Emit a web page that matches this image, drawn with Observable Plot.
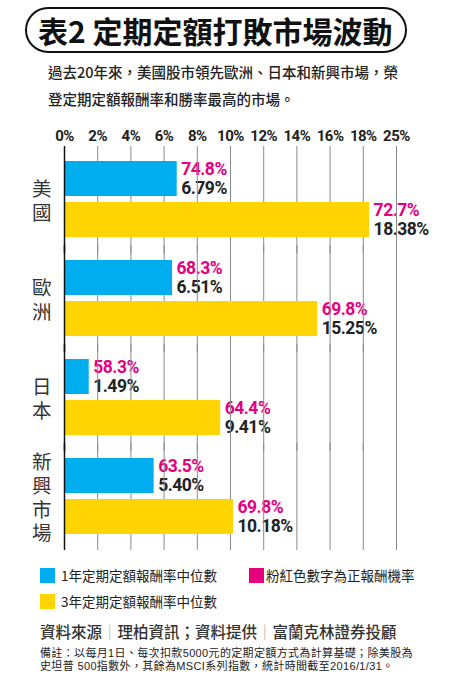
<!DOCTYPE html>
<html>
<head>
<meta charset="utf-8">
<script src="https://cdn.jsdelivr.net/npm/d3@7"></script>
<script src="https://cdn.jsdelivr.net/npm/@observablehq/plot@0.6"></script>
<style>
  html, body { margin: 0; padding: 0; background: #fff; }
  body { width: 458px; height: 687px; position: relative; overflow: hidden;
         font-family: "Noto Sans CJK TC", "Noto Sans", sans-serif; color: #222; }
  .abs { position: absolute; white-space: nowrap; }
  #title { left: 25px; top: 7px; width: 382px; height: 46px; box-sizing: border-box;
           border: 2px solid #111; border-radius: 24px; font-size: 30px; font-weight: 700;
           line-height: 42px; padding-left: 11px; color: #111; }
  #subtitle { left: 48px; top: 58px; font-size: 14.5px; line-height: 27px; font-weight: 500; color: #222; }
  #chart { left: 0; top: 110px; }
  #chart svg text { letter-spacing: -0.5px; }
  .sw { position: absolute; width: 15px; height: 15px; }
  .lg { font-size: 13.5px; line-height: 16px; color: #222; }
  #source { left: 40px; top: 620px; font-size: 15.5px; font-weight: 500; line-height: 22px; color: #333; }
  #source .sep { color: #999; font-weight: 300; }
  #notes { left: 40px; top: 647px; font-family: "Liberation Sans", "Noto Sans CJK TC", sans-serif;
           font-size: 11px; letter-spacing: 0.35px; line-height: 12.5px; color: #222; }
</style>
</head>
<body>
<div id="title" class="abs">表2 定期定額打敗市場波動</div>
<div id="subtitle" class="abs">過去20年來，美國股市領先歐洲、日本和新興市場，榮<br>登定期定額報酬率和勝率最高的市場。</div>
<div id="chart" class="abs"></div>

<div class="sw" style="left:40px;top:568px;background:#00aeef"></div>
<div class="abs lg" style="left:61px;top:567px">1年定期定額報酬率中位數</div>
<div class="sw" style="left:249px;top:568px;background:#e4007f"></div>
<div class="abs lg" style="left:266px;top:567px">粉紅色數字為正報酬機率</div>
<div class="sw" style="left:40px;top:594px;background:#ffd400"></div>
<div class="abs lg" style="left:61px;top:593px">3年定期定額報酬率中位數</div>

<div id="source" class="abs">資料來源<span class="sep">｜</span>理柏資訊；資料提供<span class="sep">｜</span>富蘭克林證券投顧</div>
<div id="notes" class="abs">備註：以每月1日、每次扣款5000元的定期定額方式為計算基礎；除美股為<br>史坦普 500指數外，其餘為MSCI系列指數，統計時間截至2016/1/31。</div>

<script>
const countries = ["美國", "歐洲", "日本", "新興市場"];
const countryLabels = ["美\n國", "歐\n洲", "日\n本", "新\n興\n市\n場"];
const series = ["1年", "3年"];
const median1y = [6.79, 6.51, 1.49, 5.40];
const median3y = [18.38, 15.25, 9.41, 10.18];
const positive1y = [74.8, 68.3, 58.3, 63.5];
const positive3y = [72.7, 69.8, 64.4, 69.8];
const xTicks = [0, 2, 4, 6, 8, 10, 12, 14, 16, 18, 20];
const xTickLabels = ["0%", "2%", "4%", "6%", "8%", "10%", "12%", "14%", "16%", "18%", "25%"];
const colors = ["#00aeef", "#ffd400"];

const rows = countries.flatMap((c, i) => [
  {country: c, label: countryLabels[i], series: series[0], value: median1y[i], positive: positive1y[i]},
  {country: c, label: countryLabels[i], series: series[1], value: median3y[i], positive: positive3y[i]}
]);

const chart = Plot.plot({
  width: 458,
  height: 446,
  marginTop: 40,
  marginBottom: 10,
  marginLeft: 64,
  marginRight: 62,
  style: {fontFamily: "Roboto, 'Noto Sans CJK TC', sans-serif", background: "transparent", overflow: "visible"},
  facet: {data: rows, y: "country"},
  fy: {domain: countries, padding: 0, axis: null, label: null},
  x: {domain: [0, 20]},
  y: {domain: series, paddingInner: 0.146, paddingOuter: 0.28, axis: null},
  color: {domain: series, range: colors},
  marks: [
    Plot.text(rows, {
      x: "value", y: "series", text: d => d.positive.toFixed(1) + "%",
      dx: 4, dy: -10, textAnchor: "start", fill: "#e4007f", fontSize: 17.5, fontWeight: "bold"
    }),
    Plot.text(rows, {
      x: "value", y: "series", text: d => d.value.toFixed(2) + "%",
      dx: 4, dy: 9.5, textAnchor: "start", fill: "#222", fontSize: 17.5, fontWeight: "bold"
    }),
    Plot.ruleX(xTicks.slice(1), {stroke: "#8a8a8a", strokeWidth: 1, insetTop: -4, insetBottom: -4}),
    Plot.barX(rows, {x: "value", y: "series", fill: "series"}),
    Plot.ruleX([0], {stroke: "#111", strokeWidth: 1.5, insetTop: -4, insetBottom: -4}),
    Plot.text(rows, {
      filter: d => d.series === series[0],
      text: "label", frameAnchor: "left", dx: -23, textAnchor: "middle",
      fontSize: 19.5, lineHeight: 1.22, fill: "#333",
      fontFamily: "'Liberation Sans', 'Noto Sans CJK TC', sans-serif"
    }),
    Plot.axisX(xTicks, {
      anchor: "top", tickSize: 0, tickPadding: 10,
      tickFormat: d => xTickLabels[xTicks.indexOf(d)],
      fontSize: 15, fontWeight: "bold", fill: "#222", label: null
    })
  ]
});
document.getElementById("chart").appendChild(chart);
</script>
</body>
</html>
